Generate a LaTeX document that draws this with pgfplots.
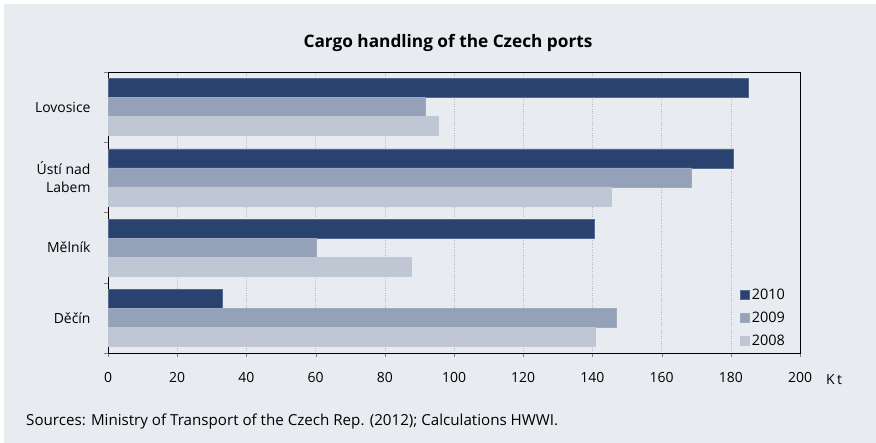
\documentclass[border=0pt]{standalone}
\usepackage{pgfplots}
\pgfplotsset{compat=1.18}
\usepackage{fontspec}
\setmainfont{Open Sans}
\definecolor{bg}{HTML}{E8EBF0}
\definecolor{c10}{HTML}{2A4270}
\definecolor{c09}{HTML}{94A1B8}
\definecolor{c08}{HTML}{BFC6D4}
\definecolor{gridc}{HTML}{B4B8C0}
\begin{document}
\begin{tikzpicture}[x=1bp,y=1bp]
\fill[white] (0,0) rectangle (876,443);
\fill[bg] (4,0) rectangle (876,439);
\node[font=\bfseries\fontsize{17.3}{20}\selectfont, anchor=base] at (448,395) {Cargo handling of the Czech ports};
\node[font=\fontsize{15.2}{17}\selectfont, anchor=base west, inner sep=0pt] at (26,17) {Sources: Ministry of Transport of the Czech Rep. (2012); Calculations HWWI.};
\begin{axis}[
  at={(108bp,90bp)}, anchor=south west,
  scale only axis, width=692bp, height=281bp,
  xbar, bar width=0.27,
  xmin=0, xmax=200, ymin=-0.5, ymax=3.5,
  xtick={0,20,...,200},
  ytick={0,1,2,3},
  yticklabels={Děčín,Mělník,{Ústí nad\\Labem},Lovosice},
  yticklabel style={align=right, font=\fontsize{14}{18}\selectfont},
  xticklabel style={font=\fontsize{14}{16}\selectfont},
  /pgf/number format/assume math mode=true,
  major y tick style={draw=none},
  minor ytick={-0.5,0.5,1.5,2.5,3.5},
  minor tick length=4bp,
  major tick length=4bp,
  tick align=outside,
  tick pos=left,
  xmajorgrids, major x grid style={gridc, dotted, line width=0.5pt},
  axis line style={black, line width=0.8pt},
  axis background/.style={fill=bg},
  y tick label style={xshift=-10bp},
  x tick label style={yshift=-12bp},
  legend style={at={(1,0)}, anchor=south east, xshift=-12bp, yshift=3bp, draw=none, fill=none,
    font=\fontsize{14.5}{16}\selectfont, row sep=7bp, inner sep=1bp},
  legend cell align=left,
  legend image code/.code={\fill[#1] (0bp,-4.5bp) rectangle (9bp,4.5bp);},
  clip=false,
]
\addplot[fill=c10, draw=c10!80!white, bar shift=0.27] coordinates {(33,0) (140.5,1) (180.6,2) (185,3)};
\addplot[fill=c09, draw=c09!90!white, bar shift=0] coordinates {(146.8,0) (60.1,1) (168.5,2) (91.6,3)};
\addplot[fill=c08, draw=c08, bar shift=-0.27] coordinates {(140.8,0) (87.6,1) (145.4,2) (95.4,3)};
\legend{2010,2009,2008}
\node[anchor=base west, font=\fontsize{14}{16}\selectfont, inner sep=0pt] at ([xshift=26bp,yshift=-32bp]rel axis cs:1,0) {K\,t};
\end{axis}
\end{tikzpicture}
\end{document}
